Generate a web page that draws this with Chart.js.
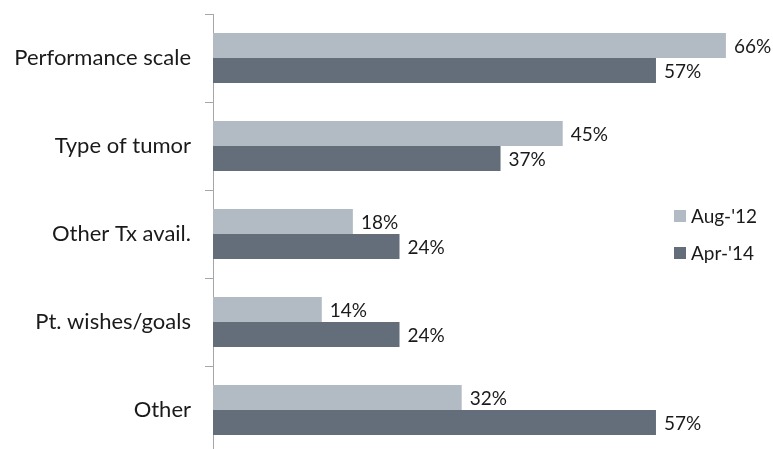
<!DOCTYPE html>
<html><head><meta charset="utf-8">
<script src="https://cdn.jsdelivr.net/npm/chart.js@4/dist/chart.umd.min.js"></script>
<style>html,body{margin:0;padding:0;overflow:hidden;background:#fff}#wrap{width:773px;height:454px;position:relative}</style>
</head><body><div id="wrap"><canvas id="c"></canvas></div>
<script>
const categories = ['Performance scale', 'Type of tumor', 'Other Tx avail.', 'Pt. wishes/goals', 'Other'];
const seriesNames = ["Aug-'12", "Apr-'14"];
const aug12 = [66, 45, 18, 14, 32];
const apr14 = [57, 37, 24, 24, 57];
const seriesColors = ['#b2bbc4', '#636e7a'];
const FONT = 'Lato, "Open Sans", sans-serif';
const TEXT = '#1a1a1a';

const valueLabels = {
  id: 'valueLabels',
  afterDatasetsDraw(chart) {
    const ctx = chart.ctx;
    ctx.save();
    ctx.font = '19px ' + FONT;
    ctx.fillStyle = TEXT;
    ctx.textAlign = 'left';
    ctx.textBaseline = 'middle';
    chart.data.datasets.forEach((ds, i) => {
      chart.getDatasetMeta(i).data.forEach((el, j) => {
        ctx.fillText(ds.data[j] + '%', el.x + 8, el.y + 1);
      });
    });
    ctx.restore();
  }
};

const sideLegend = {
  id: 'sideLegend',
  afterDraw(chart) {
    const ctx = chart.ctx;
    ctx.save();
    ctx.font = '19px ' + FONT;
    ctx.textAlign = 'left';
    ctx.textBaseline = 'middle';
    const x0 = 674, ys = [210, 247];
    chart.data.datasets.forEach((ds, i) => {
      ctx.fillStyle = ds.backgroundColor;
      ctx.fillRect(x0, ys[i], 12, 12);
      ctx.fillStyle = TEXT;
      ctx.fillText(ds.label, x0 + 17, ys[i] + 7);
    });
    ctx.restore();
  }
};

new Chart(document.getElementById('c'), {
  type: 'bar',
  data: {
    labels: categories,
    datasets: [
      { label: seriesNames[0], data: aug12, backgroundColor: seriesColors[0] },
      { label: seriesNames[1], data: apr14, backgroundColor: seriesColors[1] }
    ]
  },
  options: {
    indexAxis: 'y',
    responsive: true,
    maintainAspectRatio: false,
    animation: false,
    datasets: { bar: { categoryPercentage: 0.57, barPercentage: 1.0 } },
    layout: { padding: { top: 14, right: 16, left: 0, bottom: 0 } },
    plugins: { legend: { display: false }, tooltip: { enabled: false } },
    scales: {
      x: { display: false, min: 0, max: 70 },
      y: {
        grid: { drawOnChartArea: false, drawTicks: true, tickLength: 8, color: '#a6a6a6', offset: true },
        border: { color: '#a6a6a6', width: 1 },
        ticks: { padding: 14, color: TEXT, font: { family: FONT, size: 22 } },
        afterFit(scale) { scale.width = 213; scale.paddingTop = 0; scale.paddingBottom = 0; }
      }
    }
  },
  plugins: [valueLabels, sideLegend]
});
</script>
</body></html>
